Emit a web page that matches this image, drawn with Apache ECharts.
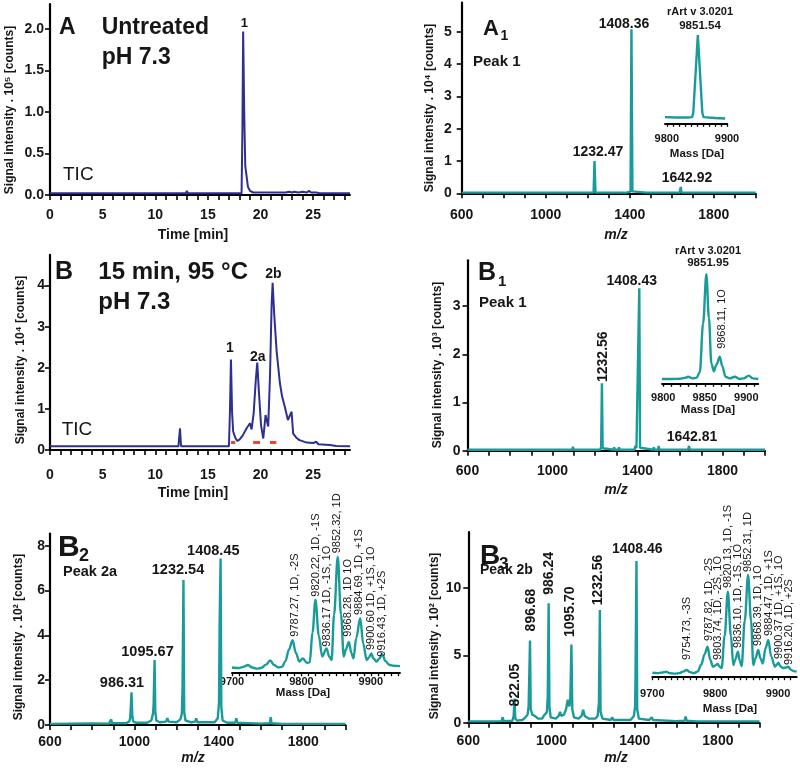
<!DOCTYPE html>
<html><head><meta charset="utf-8">
<script src="https://cdn.jsdelivr.net/npm/echarts@6/dist/echarts.min.js"></script>
<style>html,body{margin:0;padding:0;background:#fff}#c{width:800px;height:770px}</style>
</head><body><div id="c"></div>
<script>
// ---------------- DATA ----------------
// Tick values / tick labels
const timeTicks = [0,1,2,3,4,5,6,7,8,9,10,11,12,13,14,15,16,17,18,19,20,21,22,23,24,25,26,27,28];
const timeTickLabels = [0,5,10,15,20,25];
const mzTicks = [600,700,800,900,1000,1100,1200,1300,1400,1500,1600,1700,1800,1900,2000];
const mzTickLabels = [600,1000,1400,1800];
const aYTicks = [0,0.5,1,1.5,2];
const bYTicks = [0,1,2,3,4];
const a1YTicks = [0,1,2,3,4,5];
const b1YTicks = [0,1,2,3];
const b2YTicks = [0,2,4,6,8];
const b3YTicks = [0,5,10];
const a1InsetTicks = [9800,9810,9820,9830,9840,9850,9860,9870,9880,9890,9900];
const a1InsetLabels = [9800,9900];
const b1InsetTicks = [9800,9810,9820,9830,9840,9850,9860,9870,9880,9890,9900,9910];
const b1InsetLabels = [9800,9850,9900];
const b2InsetTicks = [9700,9710,9720,9730,9740,9750,9760,9770,9780,9790,9800,9810,9820,9830,9840,9850,9860,9870,9880,9890,9900,9910,9920,9930,9940];
const b3InsetTicks = [9700,9710,9720,9730,9740,9750,9760,9770,9780,9790,9800,9810,9820,9830,9840,9850,9860,9870,9880,9890,9900,9910,9920];
const b23InsetLabels = [9700,9800,9900];

// Panel A: TIC untreated, time [min] vs intensity x10^5
const ticA = [[0,0.02],[12.9,0.02],[13.0,0.05],[13.1,0.02],[18.2,0.02],[18.28,0.8],[18.35,1.97],[18.45,1.0],[18.55,0.35],[18.65,0.25],[18.8,0.1],[19.0,0.05],[19.3,0.03],[19.9,0.03],[20.0,0.05],[20.1,0.03],[20.7,0.03],[20.8,0.04],[21.2,0.03],[22.4,0.03],[22.7,0.04],[23.0,0.03],[23.2,0.04],[23.6,0.03],[24.0,0.04],[24.4,0.03],[24.6,0.05],[24.8,0.03],[25.3,0.03],[25.6,0.02],[28.5,0.02]];
// Panel B: TIC 15 min 95 C, intensity x10^4
const ticB = [[0,0.09],[12.2,0.09],[12.35,0.53],[12.45,0.09],[17.0,0.09],[17.1,1.0],[17.19,2.2],[17.3,0.9],[17.4,0.45],[17.6,0.3],[17.8,0.22],[18.0,0.25],[18.3,0.35],[18.68,0.53],[19.0,0.65],[19.15,0.5],[19.35,0.9],[19.55,1.7],[19.69,2.13],[19.85,1.4],[20.05,0.6],[20.26,0.28],[20.48,0.85],[20.73,0.57],[20.9,1.8],[21.05,3.5],[21.15,4.07],[21.3,3.3],[21.53,2.4],[21.84,1.63],[22.05,1.3],[22.3,1.06],[22.6,0.73],[22.95,0.93],[23.1,0.4],[23.4,0.3],[23.7,0.24],[24.4,0.18],[25.0,0.17],[25.3,0.2],[25.5,0.14],[26.6,0.12],[27.2,0.1],[28.5,0.09]];
// Red fraction markers on panel B
const fractionMarks = [[17.2,0.18],[17.6,0.18],[18.5,'-'],[19.3,0.18],[19.95,0.18],[20.4,'-'],[20.9,0.18],[21.5,0.18]];
// A1: m/z spectrum peak 1 (untreated), intensity x10^4
const specA1 = [[600,0.02],[1095,0.02],[1098,0.06],[1101,0.02],[1228,0.02],[1232.47,1.0],[1237,0.02],[1300,0.02],[1303,0.04],[1306,0.02],[1385,0.02],[1390,0.07],[1394,0.03],[1404,0.05],[1408.36,5.08],[1413,0.06],[1418,0.05],[1422,0.02],[1478,0.02],[1481,0.05],[1484,0.02],[1498,0.02],[1501,0.05],[1504,0.02],[1638,0.02],[1642.92,0.2],[1647,0.02],[2000,0.02]];
// B1: peak 1 (heated), x10^3
const specB1 = [[600,0.02],[1093,0.02],[1096,0.08],[1099,0.02],[1225,0.02],[1229,0.08],[1232.56,1.4],[1236,0.05],[1240,0.02],[1287,0.02],[1290,0.07],[1293,0.02],[1310,0.02],[1313,0.07],[1316,0.02],[1386,0.02],[1390,0.1],[1395,0.05],[1404,0.08],[1408.43,3.37],[1412,0.06],[1416,0.03],[1474,0.02],[1477,0.07],[1480,0.02],[1497,0.02],[1500,0.1],[1503,0.02],[1638,0.02],[1642.81,0.1],[1646,0.02],[2000,0.02]];
// B2: peak 2a, x10^2
const specB2 = [[600,0.05],[700,0.06],[800,0.07],[880,0.06],[886,0.1],[890,0.25],[894,0.08],[960,0.08],[975,0.15],[980,0.3],[983,0.8],[986.31,1.46],[990,0.4],[995,0.15],[1010,0.1],[1060,0.1],[1080,0.2],[1088,0.5],[1091,0.9],[1095.67,2.9],[1099,0.6],[1104,0.2],[1120,0.12],[1150,0.15],[1156,0.3],[1162,0.15],[1200,0.12],[1218,0.25],[1225,0.5],[1228,1.6],[1232.54,6.47],[1236,0.6],[1242,0.2],[1270,0.12],[1288,0.15],[1293,0.3],[1298,0.12],[1380,0.12],[1395,0.3],[1401,1.0],[1404,4.6],[1408.45,7.43],[1412,0.8],[1418,0.2],[1440,0.1],[1478,0.1],[1483,0.3],[1488,0.1],[1600,0.06],[1642,0.08],[1646,0.35],[1650,0.08],[1700,0.05],[1800,0.05],[2000,0.05]];
// B3: peak 2b, x10^2
const specB3 = [[600,0.1],[700,0.1],[760,0.12],[765,0.4],[770,0.12],[812,0.15],[818,0.5],[822.05,1.8],[826,0.3],[835,0.15],[860,0.2],[875,0.4],[885,0.6],[890,1.2],[896.68,6.1],[900,1.0],[908,0.6],[920,0.5],[935,0.3],[955,0.3],[962,0.5],[970,0.4],[978,0.8],[982,2],[986.24,8.87],[990,1.2],[996,0.4],[1020,0.3],[1035,0.5],[1041,0.8],[1047,0.5],[1060,0.6],[1070,1.0],[1078,1.7],[1085,1.2],[1090,1.5],[1095.7,5.8],[1100,1.0],[1108,0.4],[1130,0.3],[1145,0.5],[1152,0.95],[1160,0.5],[1180,0.3],[1210,0.3],[1222,0.5],[1228,1.5],[1232.56,8.37],[1236,0.8],[1245,0.3],[1285,0.2],[1292,0.4],[1298,0.2],[1380,0.2],[1396,0.5],[1402,1.2],[1404,3.5],[1408.46,12.0],[1412,1.0],[1420,0.3],[1470,0.2],[1482,0.4],[1488,0.2],[1600,0.12],[1640,0.15],[1645,0.45],[1650,0.15],[1700,0.1],[2000,0.1]];
// Deconvoluted mass insets (relative intensity %)
const massA1 = [[9797,7],[9815,6.5],[9835,6.5],[9842,7],[9844,12],[9851.54,100],[9859,12],[9861,7],[9880,6],[9897,5.5]];
const massB1 = [[9798.5,4],[9810,4],[9820,4.2],[9826,5],[9830,6],[9835,4.5],[9840,5],[9844,10],[9848,55],[9851.95,100],[9855,60],[9858,18],[9861,11],[9864,17],[9868.11,24.4],[9871,16],[9875,6],[9880,4.5],[9886,6],[9892,4],[9897,4.5],[9903,7],[9908,4.5],[9914.5,4]];
const massB2 = [[9700,4.5],[9710,4],[9716,5],[9723,6.6],[9729,4.5],[9736,3.5],[9742,4],[9749,7],[9755,10.5],[9761,6.5],[9767,4.5],[9772,5],[9777,10],[9782,20],[9787.27,28],[9792,17],[9797,9.6],[9802,12.3],[9808,8.5],[9812,9],[9816,35],[9820.22,63],[9825,32],[9830,14],[9836.17,21],[9840,14],[9843.5,11],[9847,50],[9852.32,100],[9857,50],[9861,14],[9864,20],[9868.28,26.6],[9872,17],[9875,12.5],[9879,30],[9884.69,47],[9889,25],[9894,11],[9897,13],[9900.6,16.6],[9904,12],[9908.5,9.6],[9912,12],[9916.43,16],[9921,10],[9927,6.6],[9933,6],[9942,5.7]];
const massB3 = [[9700,4],[9708,3.5],[9715,4],[9722,4.9],[9728,3.5],[9736,3],[9743,3.5],[9749,5],[9754.73,6.6],[9760,4.5],[9766,3.5],[9772,5],[9778,12],[9783,22],[9787.82,29.5],[9792,17],[9796.4,9.8],[9800,11],[9803.74,12.5],[9807,10],[9810.3,8.5],[9815,40],[9820.13,83.6],[9825,40],[9828.8,11.5],[9832,17],[9836.1,24.6],[9839,16],[9842,10.5],[9847,55],[9852.31,100],[9857,55],[9860.7,11.5],[9864,18],[9868.39,26.2],[9872,18],[9875.6,13],[9880,28],[9884.47,36],[9889,20],[9895,10],[9898,12],[9900.37,13.8],[9904,10],[9908.2,8.5],[9912,9],[9916.2,9.8],[9920,7],[9925,5.5],[9929.6,5]];

// Text content
const peakLabelsA = ['1'];
const peakLabelsB = ['1','2a','2b'];
const peakLabelsA1 = ['1408.36','1232.47','1642.92'];
const peakLabelsB1 = ['1232.56','1408.43','1642.81'];
const peakLabelsB2 = ['986.31','1095.67','1232.54','1408.45'];
const peakLabelsB3 = ['822.05','896.68','986.24','1095.70','1232.56','1408.46'];
const massLabelsB2 = ['9787.27, 1D, -2S','9820.22, 1D, -1S','9836.17 1D, -1S, 1O','9852.32, 1D','9868.28, 1D 1O','9884.69, 1D, +1S','9900.60 1D, +1S, 1O','9916.43, 1D, +2S'];
const massLabelsB3 = ['9754.73, -3S','9787.82, 1D, -2S','9803.74, 1D, -2S, 1O','9820.13, 1D, -1S','9836.10, 1D, -1S, 1O','9852.31, 1D','9868.39, 1D, 1O','9884.47, 1D, +1S','9900.37 1D, +1S, 1O','9916.20, 1D, +2S'];

// ---------------- STYLE / LAYOUT ----------------
const FONT = '"Liberation Sans", Arial, Helvetica, sans-serif';
const NAVY = '#2c3090', TEAL = '#199c99', RED = '#e8453c', INK = '#161616';

const grids = [], xAxes = [], yAxes = [], series = [];
function addPanel(p) {
  const i = grids.length;
  grids.push({left: p.left, top: p.top, width: p.width, height: p.height, containLabel: false, outerBoundsMode: 'none'});
  xAxes.push({
    type: 'value', gridIndex: i, min: p.xmin, max: p.xmax,
    axisLine: {show: true, onZero: false, lineStyle: {color: '#000', width: p.inset ? 1.8 : 2}},
    axisTick: {show: true, length: p.inset ? 3.5 : 5, customValues: p.xTicks, lineStyle: {color: '#000', width: p.inset ? 1.3 : 1.6}},
    axisLabel: {show: true, customValues: p.xLabels, margin: p.xMargin, fontSize: p.inset ? 11 : 14, fontWeight: 'bold', color: INK, fontFamily: FONT,
      formatter: v => String(v), showMinLabel: true, showMaxLabel: true, hideOverlap: false},
    splitLine: {show: false}
  });
  if (p.inset) {
    yAxes.push({type: 'value', gridIndex: i, min: 0, max: 100, show: false});
  } else {
    yAxes.push({
      type: 'value', gridIndex: i, min: p.ymin, max: p.ymax,
      axisLine: {show: true, lineStyle: {color: '#000', width: 2.2}},
      axisTick: {show: true, length: 5, customValues: p.yTicks, lineStyle: {color: '#000', width: 1.6}},
      axisLabel: {show: true, customValues: p.yTicks, margin: p.yMargin, fontSize: 14, fontWeight: 'bold', color: INK, fontFamily: FONT,
        formatter: p.yFmt || (v => String(v))},
      splitLine: {show: false}
    });
  }
  series.push({type: 'line', xAxisIndex: i, yAxisIndex: i, data: p.data, symbol: 'none', clip: false,
    smooth: p.smooth || false, smoothMonotone: p.smooth ? 'x' : undefined,
    lineStyle: {color: p.color, width: p.lw}, z: 3});
  return i;
}

const iA = addPanel({left: 50, top: 4, width: 300, height: 191, xmin: 0, xmax: 28.5, ymin: 0, ymax: 2.3,
  xTicks: timeTicks, xLabels: timeTickLabels, yTicks: aYTicks, xMargin: 13, yMargin: 6, yFmt: v => v.toFixed(1),
  data: ticA, color: NAVY, lw: 2});
const iB = addPanel({left: 50, top: 254.8, width: 300, height: 195.2, xmin: 0, xmax: 28.5, ymin: 0, ymax: 4.75,
  xTicks: timeTicks, xLabels: timeTickLabels, yTicks: bYTicks, xMargin: 18, yMargin: 5,
  data: ticB, color: NAVY, lw: 2});
series.push({type: 'line', xAxisIndex: iB, yAxisIndex: iB, data: fractionMarks, symbol: 'none', connectNulls: false,
  lineStyle: {color: RED, width: 3}, z: 4});
addPanel({left: 461.7, top: 2.7, width: 294, height: 190.6, xmin: 600, xmax: 2000, ymin: 0, ymax: 5.9,
  xTicks: mzTicks, xLabels: mzTickLabels, yTicks: a1YTicks, xMargin: 15, yMargin: 10,
  data: specA1, color: TEAL, lw: 2.4});
addPanel({left: 467.5, top: 260.3, width: 297.5, height: 190.4, xmin: 600, xmax: 2000, ymin: 0, ymax: 3.95,
  xTicks: mzTicks, xLabels: mzTickLabels, yTicks: b1YTicks, xMargin: 13, yMargin: 7,
  data: specB1, color: TEAL, lw: 2.4});
addPanel({left: 50, top: 533.5, width: 295.4, height: 191.5, xmin: 600, xmax: 2000, ymin: 0, ymax: 8.55,
  xTicks: mzTicks, xLabels: mzTickLabels, yTicks: b2YTicks, xMargin: 10, yMargin: 5,
  data: specB2, color: TEAL, lw: 2.4});
addPanel({left: 468.3, top: 532.1, width: 291.2, height: 190.6, xmin: 600, xmax: 2000, ymin: 0, ymax: 14.15,
  xTicks: mzTicks, xLabels: mzTickLabels, yTicks: b3YTicks, xMargin: 11, yMargin: 7,
  data: specB3, color: TEAL, lw: 2.4});
// insets
addPanel({inset: true, left: 665, top: 35, width: 62, height: 88.3, xmin: 9797, xmax: 9900,
  xTicks: a1InsetTicks, xLabels: a1InsetLabels, xMargin: 10, data: massA1, color: TEAL, lw: 2.4});
addPanel({inset: true, left: 662, top: 274.3, width: 96.3, height: 109, xmin: 9798.5, xmax: 9914.5,
  xTicks: b1InsetTicks, xLabels: b1InsetLabels, xMargin: 9, data: massB1, color: TEAL, lw: 2.4, smooth: 0.35});
addPanel({inset: true, left: 232, top: 556.7, width: 168, height: 116, xmin: 9700, xmax: 9942,
  xTicks: b2InsetTicks, xLabels: b23InsetLabels, xMargin: 4, data: massB2, color: TEAL, lw: 2.4, smooth: 0.35});
addPanel({inset: true, left: 652.3, top: 575, width: 144.4, height: 101.7, xmin: 9700, xmax: 9929.6,
  xTicks: b3InsetTicks, xLabels: b23InsetLabels, xMargin: 12, data: massB3, color: TEAL, lw: 2.4, smooth: 0.35});

// Text elements
const texts = [];
function T(text, x, y, o) {
  o = o || {};
  texts.push({type: 'text', x: x, y: y, rotation: o.rot ? Math.PI / 2 : 0, z: 100,
    style: {text: text, fill: INK, fontFamily: FONT, fontSize: o.size || 14, fontWeight: o.weight || 'bold',
      fontStyle: o.italic ? 'italic' : 'normal', align: o.align || 'center', verticalAlign: o.valign || 'middle'}});
}
const yTitle = e => 'Signal intensity . 10' + e + ' [counts]';
// Panel A
T('A', 59, 28, {size: 23, align: 'left'});
T('Untreated', 101.7, 28, {size: 23, align: 'left'});
T('pH 7.3', 101.7, 58, {size: 23, align: 'left'});
T('TIC', 63, 175, {size: 19, weight: 'normal', align: 'left'});
T(peakLabelsA[0], 244.3, 23, {size: 13});
T(yTitle('\u2075'), 10, 110, {size: 12, rot: true});
T('Time [min]', 193, 235, {size: 14});
// Panel B
T('B', 55, 272, {size: 25, align: 'left'});
T('15 min, 95 °C', 98.3, 272, {size: 24, align: 'left'});
T('pH 7.3', 98.3, 302, {size: 24, align: 'left'});
T('TIC', 61.7, 430, {size: 19, weight: 'normal', align: 'left'});
T(peakLabelsB[0], 230, 348.3, {size: 14});
T(peakLabelsB[1], 257.7, 356.7, {size: 14});
T(peakLabelsB[2], 273.3, 274, {size: 14});
T(yTitle('\u2074'), 21, 360, {size: 12, rot: true});
T('Time [min]', 193, 493, {size: 14});
// Panel A1
T('A', 483, 29, {size: 22, align: 'left'});
T('1', 500.5, 36, {size: 14, align: 'left'});
T('Peak 1', 473, 62, {size: 15, align: 'left'});
T(peakLabelsA1[0], 624, 24, {size: 14});
T(peakLabelsA1[1], 598, 151.7, {size: 14});
T(peakLabelsA1[2], 687, 178.3, {size: 14});
T('rArt v 3.0201', 700, 11.7, {size: 11});
T('9851.54', 700, 26, {size: 11.5});
T('Mass [Da]', 697, 154, {size: 11.5});
T(yTitle('\u2074'), 430, 108, {size: 12, rot: true});
T('m/z', 616, 235, {size: 14, italic: true});
// Panel B1
T('B', 478, 273.3, {size: 25, align: 'left'});
T('1', 498, 282, {size: 15, align: 'left'});
T('Peak 1', 479, 303.3, {size: 15, align: 'left'});
T(peakLabelsB1[0], 602.7, 356.7, {size: 14, rot: true});
T(peakLabelsB1[1], 631.7, 281, {size: 14});
T(peakLabelsB1[2], 692, 436.7, {size: 14});
T('rArt v 3.0201', 708, 251, {size: 11});
T('9851.95', 708, 263.3, {size: 11.5});
T('9868.11, 1O', 721.7, 319, {size: 11, weight: 'normal', rot: true});
T('Mass [Da]', 708, 410, {size: 11.5});
T(yTitle('\u00b3'), 437.5, 365, {size: 12, rot: true});
T('m/z', 616, 490, {size: 14, italic: true});
// Panel B2
T('B', 58, 548, {size: 30, align: 'left'});
T('2', 79, 556, {size: 18, align: 'left'});
T('Peak 2a', 63, 571.7, {size: 14.5, align: 'left'});
T(peakLabelsB2[0], 122, 682.7, {size: 14.5});
T(peakLabelsB2[1], 147.5, 651.7, {size: 14.5});
T(peakLabelsB2[2], 178, 570, {size: 14.5});
T(peakLabelsB2[3], 213.3, 551, {size: 14.5});
T('Mass [Da]', 303, 693.3, {size: 11.5});
T(yTitle('\u00b2'), 18.3, 637, {size: 12, rot: true});
T('m/z', 193, 758, {size: 14, italic: true});
const b2Pos = [[295, 636.7],[316, 596.7],[326.7, 646.7],[337.3, 553.3],[348.3, 636.7],[359.3, 615],[370.7, 650],[382.3, 656.7]];
massLabelsB2.forEach((s, k) => T(s, b2Pos[k][0], b2Pos[k][1], {size: 11, weight: 'normal', rot: true, align: 'left'}));
// Panel B3
T('B', 480, 556.7, {size: 28, align: 'left'});
T('3', 499, 564, {size: 17, align: 'left'});
T('Peak 2b', 480, 570, {size: 14, align: 'left'});
const b3PeakPos = [[515, 685],[530.7, 610],[549, 573.3],[570, 611.7],[598.3, 580]];
for (let k = 0; k < 5; k++) T(peakLabelsB3[k], b3PeakPos[k][0], b3PeakPos[k][1], {size: 14, rot: true});
T(peakLabelsB3[5], 637.3, 549.3, {size: 14});
T('Mass [Da]', 730, 709.3, {size: 11.5});
T(yTitle('\u00b2'), 435, 636, {size: 12, rot: true});
T('m/z', 616, 758, {size: 14, italic: true});
const b3Pos = [[686.7, 660],[709, 641],[718, 660],[727.5, 588],[737.5, 648],[748, 572],[757.5, 646],[768.5, 636],[778.5, 659],[788.5, 665]];
massLabelsB3.forEach((s, k) => T(s, b3Pos[k][0], b3Pos[k][1], {size: 11, weight: 'normal', rot: true, align: 'left'}));

const chart = echarts.init(document.getElementById('c'), null, {renderer: 'canvas', width: 800, height: 770});
chart.setOption({
  animation: false,
  backgroundColor: '#fff',
  grid: grids, xAxis: xAxes, yAxis: yAxes, series: series,
  graphic: {elements: texts}
});
</script></body></html>
